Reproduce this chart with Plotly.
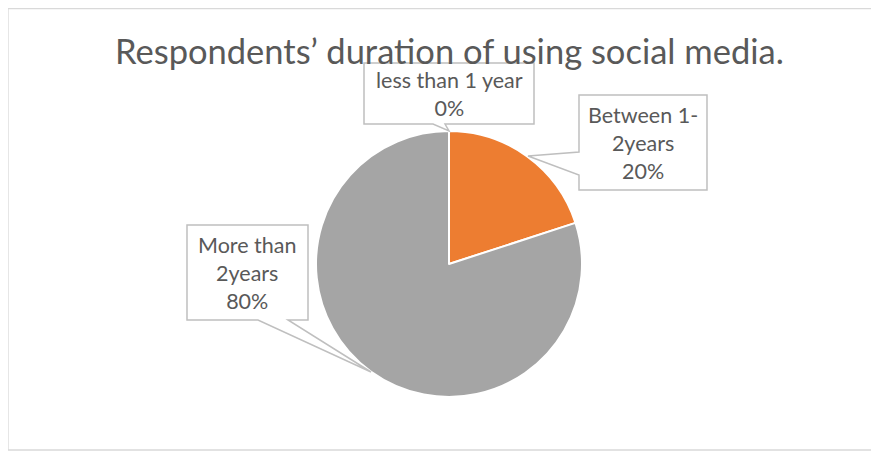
import plotly.graph_objects as go

# ---- data ----
labels = ["less than 1 year", "Between 1-2years", "More than 2years"]
values = [0, 20, 80]
colors = ["#4472C4", "#ED7D31", "#A5A5A5"]
callout_text = ["less than 1 year", "Between 1-<br>2years", "More than<br>2years"]
title_text = "Respondents’ duration of using social media."

W, H = 879, 453
OX, OY = 8, 8  # page body margin offset
FONT = "Lato, Open Sans, sans-serif"
TXT = "#595959"
BOX = "#BFBFBF"

def px(x):
    return (x - OX) / W

def py(y):
    return 1 - (y - OY) / H

# pie geometry (screen pixels)
cx, cy, r = 449, 264, 133

fig = go.Figure()
fig.add_trace(go.Pie(
    labels=labels, values=values, sort=False, direction="clockwise", rotation=0,
    marker=dict(colors=colors, line=dict(color="white", width=2)),
    textinfo="none", hoverinfo="label+percent", showlegend=False,
    domain=dict(x=[px(cx - r), px(cx + r)], y=[py(cy + r), py(cy - r)]),
))

total = sum(values)
pcts = [f"{round(v / total * 100)}%" for v in values]

shapes = []
# chart border
shapes.append(dict(type="rect", xref="paper", yref="paper",
                   x0=px(8), x1=px(895), y0=py(450), y1=py(8.5),
                   line=dict(color="#D9D9D9", width=1.3), fillcolor="rgba(0,0,0,0)", layer="below"))

def path(points):
    return "M " + " L ".join(f"{px(x):.5f},{py(y):.5f}" for x, y in points) + " Z"

c1 = [(364, 63), (534, 63), (534, 124), (445, 124), (449, 131), (433, 124), (364, 124)]
c2 = [(579, 95), (707, 95), (707, 190), (579, 190), (579, 175), (528, 156), (579, 152)]
c3 = [(187, 225), (308, 225), (308, 320), (288, 320), (371, 372), (258, 320), (187, 320)]
for c in (c1, c2, c3):
    shapes.append(dict(type="path", xref="paper", yref="paper", path=path(c),
                       line=dict(color=BOX, width=1.5), fillcolor="white", layer="above"))

annotations = []
centers = [(449, 94), (643, 142.5), (247.5, 272.5)]
for (x, y), t, p in zip(centers, callout_text, pcts):
    annotations.append(dict(xref="paper", yref="paper", x=px(x), y=py(y),
                            text=f"{t}<br>{p}", showarrow=False,
                            xanchor="center", yanchor="middle", align="center",
                            font=dict(family=FONT, size=21.5, color=TXT)))
annotations.append(dict(xref="paper", yref="paper", x=px(449), y=py(50),
                        text=title_text, showarrow=False, xanchor="center", yanchor="middle",
                        font=dict(family=FONT, size=34.5, color=TXT)))

fig.update_layout(width=W, height=H, margin=dict(l=0, r=0, t=0, b=0),
                  paper_bgcolor="white", plot_bgcolor="white",
                  shapes=shapes, annotations=annotations)
fig.write_html("out.html")
